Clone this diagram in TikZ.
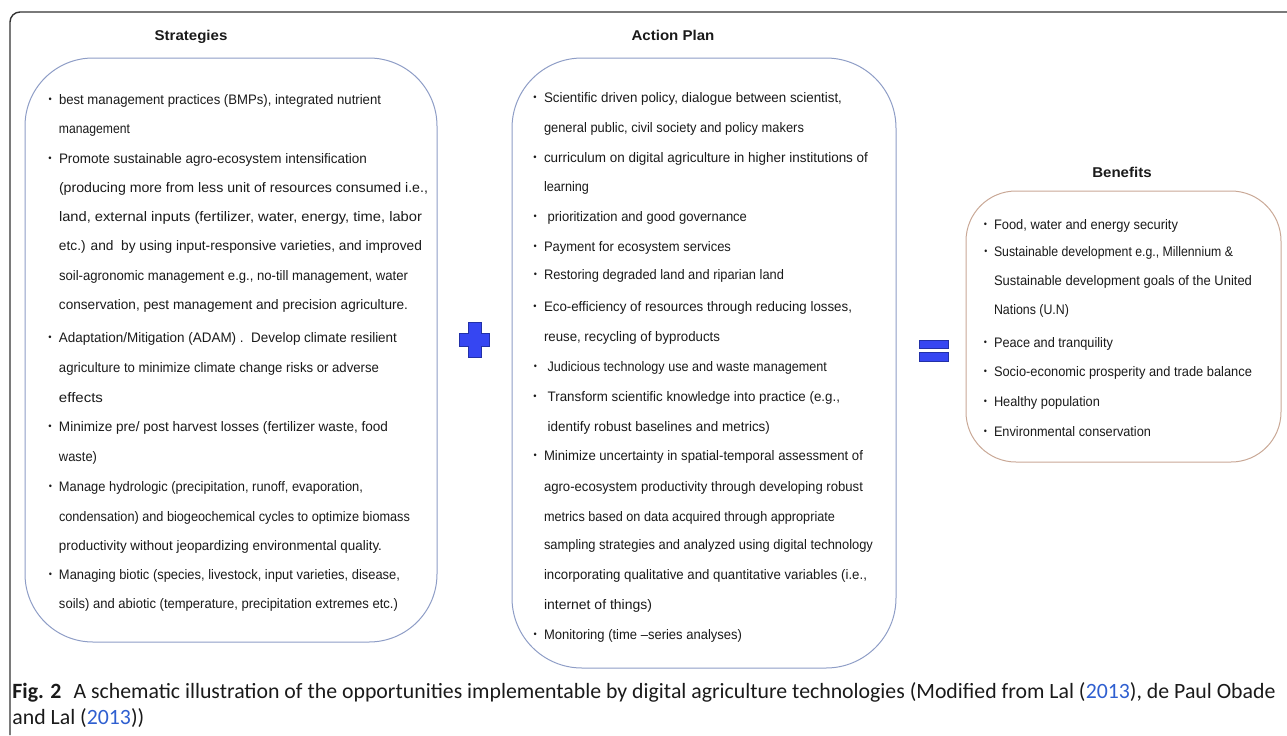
\documentclass[tikz,border=0pt]{standalone}
\usepackage{fontspec}
\setmainfont{Liberation Sans}
\newfontfamily\comic[FakeStretch=1.06]{Liberation Sans}
\newfontfamily\capfont{Carlito}
\definecolor{boxblue}{HTML}{8E9DC6}
\definecolor{boxtan}{HTML}{C9A896}
\definecolor{ink}{HTML}{1A1A1A}
\definecolor{link}{HTML}{2F5FD0}
\definecolor{sym}{HTML}{3646F2}
\definecolor{symdark}{HTML}{2230A8}
\newcommand\bul{\llap{\raisebox{0.25ex}{\scalebox{0.7}{•}}\hspace{4pt}}}
\newsavebox\fitbox
\newcommand\fitline[3]{\sbox\fitbox{#3}\pgfmathsetmacro\fitsc{(#2-#1)*0.5/\the\wd\fitbox}\scalebox{\fitsc}[1]{\usebox\fitbox}}
\tikzset{
  txt/.style={anchor=base west, inner sep=0pt, outer sep=0pt, text=ink, font=\comic\fontsize{6.9pt}{7pt}\selectfont},
  head/.style={anchor=base, inner sep=0pt, font=\comic\bfseries\fontsize{7.1pt}{8pt}\selectfont, text=ink},
  panel/.style={draw=boxblue, line width=0.5pt, inner sep=0pt, outer sep=0pt},
  captxt/.style={anchor=base west, inner sep=0pt, font=\capfont\fontsize{10.9pt}{12pt}\selectfont, text=ink},
  symb/.style={fill=sym, draw=symdark, line width=0.5pt}
}
\begin{document}
\begin{tikzpicture}[x=0.5pt,y=-0.5pt]
\useasboundingbox (0,0) rectangle (1287,735);
% outer frame
\draw[line width=0.7pt, draw=black!80, rounded corners=5pt] (10,735) -- (10,12) -- (1287,12);

% panels
\node[panel, rounded corners=34pt, minimum width=206pt, minimum height=292pt] (strat) at (231,350) {};
\node[panel, rounded corners=35pt, minimum width=192pt, minimum height=305pt] (action) at (704,363) {};
\node[panel, draw=boxtan, rounded corners=25pt, minimum width=157.5pt, minimum height=135.5pt] (benef) at (1123.5,326.5) {};

% headings
\node[head] (hstrat) at (191,40) {Strategies};
\node[head] (haction) at (673,40) {Action Plan};
\node[head] (hbenef) at (1122,177) {Benefits};

% strategies text
\foreach \y/\e/\t [count=\i] in {
104/381/{\bul best management practices (BMPs), integrated nutrient},
133/130/{management},
163/367/{\bul Promote sustainable agro-ecosystem intensification},
192/428/{(producing more from less unit of resources consumed i.e.,},
221/422/{land, external inputs (fertilizer, water, energy, time, labor},
250/422/{etc.) and\ \ by using input-responsive varieties, and improved},
280/408/{soil-agronomic management e.g., no-till management, water},
309/408/{conservation, pest management and precision agriculture.},
342/397/{\bul Adaptation/Mitigation (ADAM) .\ \ Develop climate resilient},
372/379/{agriculture to minimize climate change risks or adverse},
402/103/{effects},
431/388/{\bul Minimize pre/ post harvest losses (fertilizer waste, food},
461/97/{waste)},
491/363/{\bul Manage hydrologic (precipitation, runoff, evaporation,},
521/410/{condensation) and biogeochemical cycles to optimize biomass},
550/382/{productivity without jeopardizing environmental quality.},
579/400/{\bul Managing biotic (species, livestock, input varieties, disease,},
608/398/{soils) and abiotic (temperature, precipitation extremes etc.)}}
  \node[txt, name=s\i] at (59,\y) {\fitline{59}{\e}{\t}};

% action plan text
\foreach \y/\e/\t [count=\i] in {
102/842/{\bul Scientific driven policy, dialogue between scientist,},
132/804/{general public, civil society and policy makers},
162/868/{\bul curriculum on digital agriculture in higher institutions of},
191/589/{learning},
221/747/{\bul\ prioritization and good governance},
251/731/{\bul Payment for ecosystem services},
279/784/{\bul Restoring degraded land and riparian land},
311/852/{\bul Eco-efficiency of resources through reducing losses,},
341/720/{reuse, recycling of byproducts},
371/827/{\bul\ Judicious technology use and waste management},
401/840/{\bul\ Transform scientific knowledge into practice (e.g.,},
431/770/{\ identify robust baselines and metrics)},
460/863/{\bul Minimize uncertainty in spatial-temporal assessment of},
491/863/{agro-ecosystem productivity through developing robust},
521/835/{metrics based on data acquired through appropriate},
549/873/{sampling strategies and analyzed using digital technology},
579/867/{incorporating qualitative and quantitative variables (i.e.,},
609/652/{internet of things)},
639/742/{\bul Monitoring (time –series analyses)}}
  \node[txt, name=a\i] at (544,\y) {\fitline{544}{\e}{\t}};

% benefits text
\foreach \y/\e/\t [count=\i] in {
229/1178/{\bul Food, water and energy security},
256/1233/{\bul Sustainable development e.g., Millennium \&},
285/1252/{Sustainable development goals of the United},
314/1069/{Nations (U.N)},
347/1113/{\bul Peace and tranquility},
376/1252/{\bul Socio-economic prosperity and trade balance},
406/1100/{\bul Healthy population},
436/1151/{\bul Environmental conservation}}
  \node[txt, name=b\i] at (994,\y) {\fitline{994}{\e}{\t}};

% plus sign
\fill[symb] (468,322) -- (481,322) -- (481,333) -- (489,333) -- (489,346) -- (481,346) -- (481,357) -- (468,357) -- (468,346) -- (459,346) -- (459,333) -- (468,333) -- cycle;
% equals sign
\fill[symb] (919,340) rectangle (948,348);
\fill[symb] (919,352) rectangle (948,361);

% caption
\node[captxt] (cap1) at (12,698) {\textbf{Fig. 2}\hspace{6pt}A schematic illustration of the opportunities implementable by digital agriculture technologies (Modified from Lal (\textcolor{link}{2013}), de Paul Obade};
\node[captxt] (cap2) at (12,724) {and Lal (\textcolor{link}{2013}))};
\end{tikzpicture}
\end{document}
